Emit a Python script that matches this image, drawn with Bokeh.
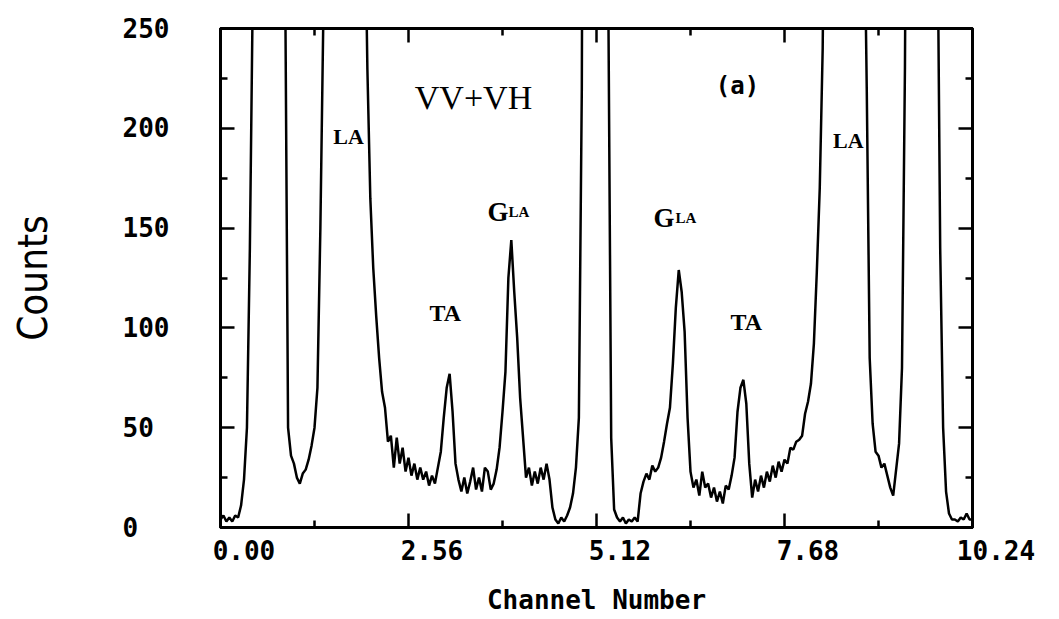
from bokeh.plotting import figure
from bokeh.models import Range1d, FixedTicker, LinearAxis, Label, CustomJSTickFormatter
from bokeh.embed import file_html
from bokeh.resources import INLINE
import numpy as np

# ---------------- data ----------------
channel_start = 0.0
channel_step = 0.04          # spectrum binned every 0.04 channel units
counts = [
    4, 6, 3, 5, 3, 6, 5, 11, 24, 50, 140, 270,
    600, 1100, 1600, 1900, 1800, 1500, 1100, 750, 520, 360, 280,
    50, 36, 32, 25, 22, 27, 29, 34, 41, 50, 70, 150, 255,
    500, 900, 1400, 1900, 2300, 2600, 2700, 2650, 2400, 2000, 1500, 1000, 600, 330,
    230, 165, 130, 106, 85, 68, 60, 43, 46, 30, 45, 32, 40, 28, 35, 26, 32, 24, 30, 24, 28, 21, 26, 22, 30,
    38, 55, 70, 77, 58, 32, 24, 18, 25, 17, 23, 30, 19, 25, 18, 30, 28, 19, 22, 29,
    40, 58, 78, 125, 144, 118, 95, 65, 45, 25, 30, 21, 28, 22, 30, 24, 32, 24,
    10, 4, 2, 5, 3, 6, 10, 17, 30, 55, 220,
    700, 1500, 2400, 3000, 3000, 2400, 1500, 700,
    270, 45, 9, 5, 3, 5, 2, 4, 3, 5, 3,
    17, 23, 27, 24, 31, 28, 30, 35, 43, 52, 60, 82, 110, 129, 118, 98, 55, 28,
    20, 24, 16, 28, 20, 22, 15, 20, 13, 18, 12, 21, 19, 26,
    35, 58, 70, 74, 62, 32, 15,
    24, 18, 26, 20, 28, 23, 31, 25, 33, 28, 34, 32, 40, 39, 43, 44, 46, 57, 63, 72, 92, 128, 170, 240,
    400, 700, 1100, 1600, 2000, 2400, 2600, 2600, 2400, 2000, 1500, 1000, 600, 330,
    220, 85, 52, 38, 36, 30, 32, 26, 20, 16, 29, 42, 80, 230,
    500, 900, 1300, 1600, 1800, 1800, 1600, 1300, 900, 550, 320,
    140, 50, 18, 7, 4, 4, 3, 5, 4, 7, 4, 4,
]
channels = np.round(channel_start + np.arange(len(counts)) * channel_step, 4)

x_ticks = [0.0, 2.56, 5.12, 7.68, 10.24]
x_tick_labels = ["0.00", "2.56", "5.12", "7.68", "10.24"]
x_minor_ticks = [1.28, 3.84, 6.40, 8.96]
y_ticks = [0, 50, 100, 150, 200, 250]
y_tick_labels = ["0", "50", "100", "150", "200", "250"]
y_minor_ticks = [25, 75, 125, 175, 225]

x_title = "Channel Number"
y_title = "Counts"

# ---------------- figure ----------------
p = figure(width=1059, height=619, output_backend="svg", toolbar_location=None,
           x_range=Range1d(0, 10.24), y_range=Range1d(0, 250),
           min_border_left=220, min_border_right=87, min_border_top=28, min_border_bottom=92)
p.background_fill_color = "white"
p.border_fill_color = "white"
p.xgrid.visible = False
p.ygrid.visible = False
p.outline_line_color = "black"
p.outline_line_width = 3

bottom_axis = p.below[0]
left_axis = p.left[0]
top_axis = LinearAxis()
right_axis = LinearAxis()
p.add_layout(top_axis, "above")
p.add_layout(right_axis, "right")

mono = "DejaVu Sans Mono"
NBSP = "\u00a0"
# the plotter wrote y labels flush left and x labels a little right of each tick:
# pad monospaced labels with no-break spaces so Bokeh's alignment reproduces that
y_width = max(len(s) for s in y_tick_labels)
y_shown = [s + NBSP * (y_width - len(s)) for s in y_tick_labels]
x_shown = [NBSP * 3 + s for s in x_tick_labels]

for ax, tk, mn, lab in [(bottom_axis, x_ticks, x_minor_ticks, x_shown),
                        (top_axis, x_ticks, x_minor_ticks, None),
                        (left_axis, y_ticks, y_minor_ticks, y_shown),
                        (right_axis, y_ticks, y_minor_ticks, None)]:
    ax.ticker = FixedTicker(ticks=tk, minor_ticks=mn)
    ax.major_tick_in = 14
    ax.major_tick_out = 0
    ax.minor_tick_in = 7
    ax.minor_tick_out = 0
    ax.major_tick_line_width = 2.5
    ax.minor_tick_line_width = 2.5
    ax.major_tick_line_color = "black"
    ax.minor_tick_line_color = "black"
    ax.axis_line_width = 3
    ax.axis_line_color = "black"
    if lab is None:
        ax.formatter = CustomJSTickFormatter(code="return ''")
        ax.major_label_standoff = 0
    else:
        ax.major_label_overrides = {t: s for t, s in zip(tk, lab)}
        ax.major_label_text_font = mono
        ax.major_label_text_font_style = "bold"
        ax.major_label_text_font_size = "26px"
        ax.major_label_text_color = "black"

bottom_axis.major_label_standoff = 8
left_axis.major_label_standoff = 51

bottom_axis.axis_label = x_title
bottom_axis.axis_label_text_font = mono
bottom_axis.axis_label_text_font_style = "bold"
bottom_axis.axis_label_text_font_size = "26px"
bottom_axis.axis_label_text_color = "black"
bottom_axis.axis_label_standoff = 16

left_axis.axis_label = y_title
left_axis.axis_label_text_font = "DejaVu Sans Condensed, DejaVu Sans"
left_axis.axis_label_text_font_style = "normal"
left_axis.axis_label_text_font_size = "40px"
left_axis.axis_label_text_color = "black"
left_axis.axis_label_standoff = 64

# spectrum
p.line(channels, counts, line_color="black", line_width=2.5)

serif = "Liberation Serif"
annotations = [
    # text, x, y, size, style, font
    ("VV+VH", 3.445, 215.5, "34px", "normal", serif),
    ("(a)", 7.04, 221, "24px", "bold", mono),
    ("LA", 1.743, 196, "22px", "bold", serif),
    ("LA", 8.55, 194, "22px", "bold", serif),
    ("TA", 3.06, 107.5, "24px", "bold", serif),
    ("TA", 7.16, 103, "24px", "bold", serif),
]
for t, x, y, fs, st, fnt in annotations:
    p.add_layout(Label(x=x, y=y, text=t, text_align="center", text_baseline="alphabetic",
                       text_font=fnt, text_font_size=fs, text_font_style=st, text_color="black"))

for gx, sx, by in [(3.636, 3.922, 158.3), (5.896, 6.196, 155.3)]:
    p.add_layout(Label(x=gx, y=by, text="G", text_align="left", text_baseline="alphabetic",
                       text_font=serif, text_font_size="27px", text_font_style="bold", text_color="black"))
    p.add_layout(Label(x=sx, y=by, text="LA", text_align="left", text_baseline="alphabetic",
                       text_font=serif, text_font_size="15px", text_font_style="bold", text_color="black"))

open("out.html", "w").write(file_html(p, INLINE))
